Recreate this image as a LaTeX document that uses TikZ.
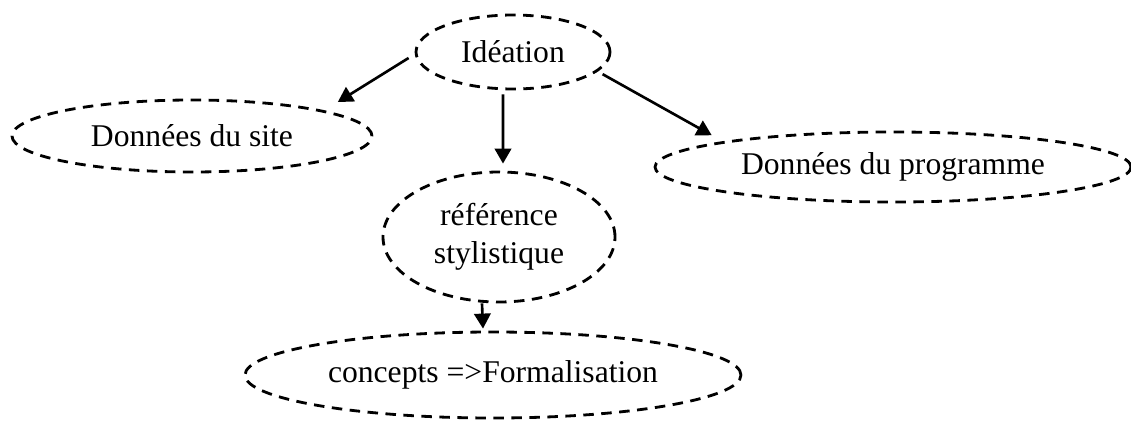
\documentclass[tikz,border=0pt]{standalone}
\usepackage{fontspec}
\setmainfont{Liberation Serif}
\usetikzlibrary{shapes.geometric, arrows.meta, positioning}

\begin{document}
\begin{tikzpicture}[
  bulle/.style={draw, ellipse, dash pattern=on 0.21cm off 0.15cm, line width=1.6pt, inner sep=0pt, align=center, font=\fontsize{18}{21.6}\selectfont},
  arr/.style={-{Triangle[length=0.3cm, width=0.33cm]}, line width=1.5pt}]
  \useasboundingbox (0,0) rectangle (22.62,8.42);
  \node[bulle, minimum width=3.88cm, minimum height=1.48cm] (ide) at (10.26,7.38) {Idéation};
  \node[bulle, minimum width=7.2cm, minimum height=1.44cm] (site) at (3.84,5.70) {Données du site};
  \node[bulle, minimum width=9.52cm, minimum height=1.40cm] (prog) at (17.86,5.08) {Données du programme};
  \node[bulle, minimum width=4.64cm, minimum height=2.60cm] (ref) at (9.98,3.68) {référence\\stylistique};
  \node[bulle, minimum width=9.92cm, minimum height=1.72cm] (conc) at (9.86,0.92) {concepts =>Formalisation};
  \draw[arr] ([shift={(-0.12,-0.12)}]ide.west) -- ([shift={(0.35,0.15)}]site.north east);
  \draw[arr] ([shift={(-0.2,-0.08)}]ide.south) -- ([shift={(0.08,0.14)}]ref.north);
  \draw[arr] ([shift={(0.4,0.1)}]ide.south east) -- ([shift={(-0.24,0.12)}]prog.north west);
  \draw[arr] ([xshift=-0.34cm]ref.south) -- ([shift={(-0.2,0.04)}]conc.north);
\end{tikzpicture}
\end{document}
